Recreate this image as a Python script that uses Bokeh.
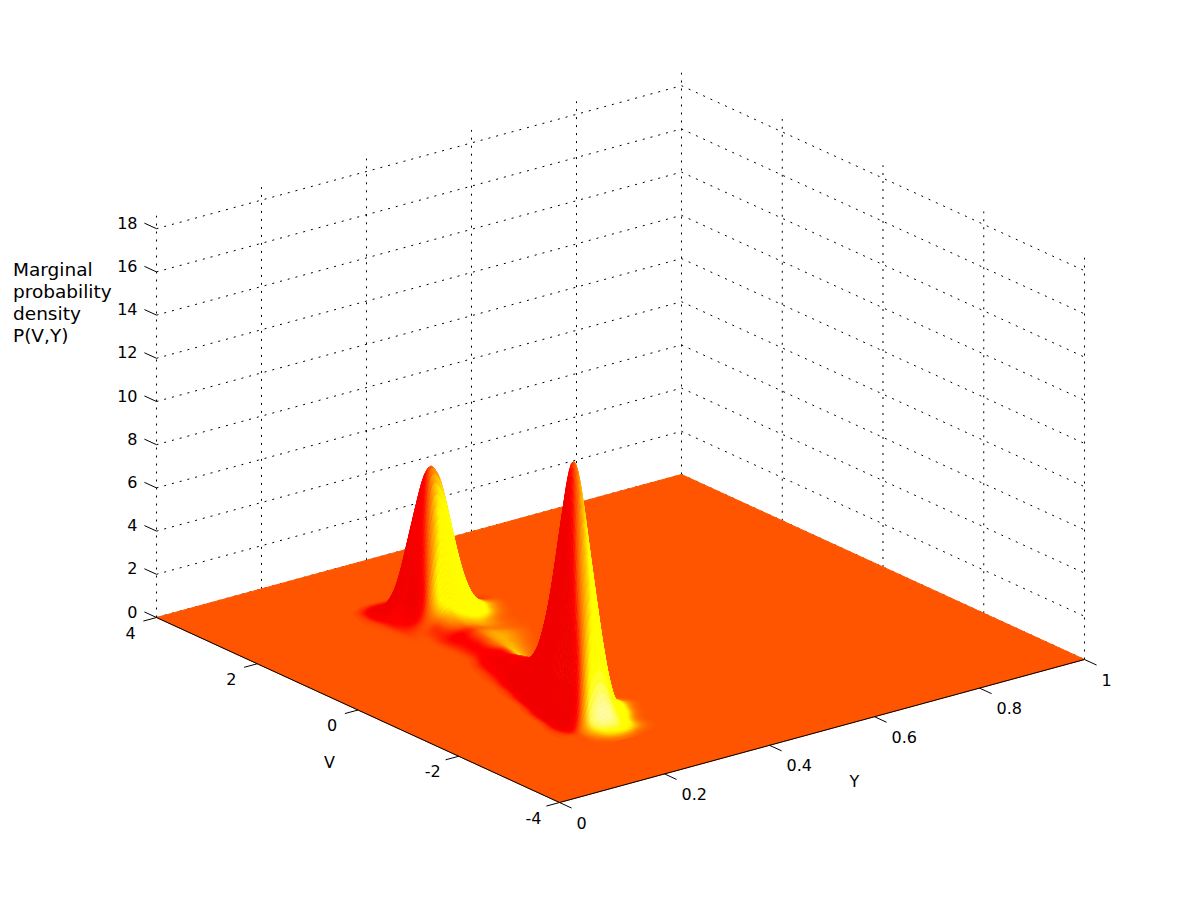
import numpy as np
from bokeh.plotting import figure
from bokeh.models import ColumnDataSource, Range1d
from bokeh.core.properties import value
from bokeh.embed import file_html
from bokeh.resources import INLINE

# ---- values -----------------------------------------------------------
z_ticks = [0, 2, 4, 6, 8, 10, 12, 14, 16, 18]
z_top = 18.6
v_ticks = [4, 2, 0, -2, -4]
y_ticks = [0, 0.2, 0.4, 0.6, 0.8, 1]
y_tick_labels = ["0", "0.2", "0.4", "0.6", "0.8", "1"]
label_lines = ["Marginal", "probability", "density", "P(V,Y)"]

V_rows = [2.75, 2.5, 2.25, 2.0, 1.75, 1.5, 1.25, 1.0, 0.75, 0.5, 0.25, 0.0, -0.25,
          -0.5, -0.75, -1.0, -1.25, -1.5, -1.75, -2.0, -2.25, -2.5, -2.75]
Y_cols = [0.16, 0.18, 0.20, 0.22, 0.24, 0.26, 0.28, 0.30, 0.32, 0.34, 0.36, 0.38, 0.40, 0.42, 0.44, 0.46]

# density P(V,Y): one row per V, one column per Y
density = [
    [0, 0, 0, 0, 0, 0.002, 0.005, 0.006, 0.004, 0.002, 0.001, 0, 0, 0, 0, 0],
    [0, 0, 0, 0, 0.004, 0.045, 0.186, 0.3, 0.24, 0.124, 0.04, 0.009, 0.001, 0, 0, 0],
    [0, 0, 0, 0, 0.008, 0.12, 0.66, 2.36, 3.39, 2.73, 1.51, 0.58, 0.156, 0.029, 0.0036, 0],
    [0, 0, 0, 0, 0.005, 0.09, 0.53, 2.75, 6.27, 6.66, 4.71, 2.36, 0.83, 0.208, 0.037, 0.0047],
    [0, 0, 0, 0, 0.003, 0.05, 0.36, 1.76, 3.48, 3.25, 2.1, 0.96, 0.32, 0.073, 0.012, 0.0012],
    [0, 0, 0, 0, 0.002, 0.018, 0.115, 0.52, 0.855, 0.72, 0.43, 0.18, 0.054, 0.011, 0.0019, 0],
    [0, 0, 0, 0, 0, 0.0037, 0.052, 0.25, 0.425, 0.357, 0.21, 0.09, 0.027, 0.006, 0.001, 0],
    [0, 0, 0, 0, 0, 0.0029, 0.046, 0.242, 0.42, 0.346, 0.192, 0.08, 0.022, 0.004, 0, 0],
    [0, 0, 0, 0, 0, 0.002, 0.039, 0.218, 0.358, 0.24, 0.10, 0.03, 0.006, 0.001, 0, 0],
    [0, 0, 0, 0, 0, 0.0028, 0.046, 0.212, 0.287, 0.14, 0.035, 0.006, 0.001, 0, 0, 0],
    [0, 0, 0, 0, 0.002, 0.024, 0.13, 0.312, 0.288, 0.05, 0.008, 0.001, 0, 0, 0, 0],
    [0, 0, 0, 0, 0.006, 0.074, 0.334, 0.55, 0.198, 0.014, 0.002, 0, 0, 0, 0, 0],
    [0, 0, 0, 0.001, 0.021, 0.174, 0.574, 0.71, 0.187, 0.010, 0.001, 0, 0, 0, 0, 0],
    [0, 0, 0, 0.004, 0.078, 0.5, 1.11, 0.74, 0.105, 0.006, 0, 0, 0, 0, 0, 0],
    [0, 0, 0, 0.015, 0.276, 1.39, 1.92, 0.76, 0.088, 0.005, 0, 0, 0, 0, 0, 0],
    [0, 0, 0.0012, 0.08, 1.14, 3.39, 2.54, 0.69, 0.069, 0.004, 0, 0, 0, 0, 0, 0],
    [0, 0, 0.0077, 0.39, 3.58, 6.1, 3.42, 0.84, 0.09, 0.0062, 0, 0, 0, 0, 0, 0],
    [0, 0.0004, 0.059, 1.58, 7.84, 8.44, 4.31, 1.16, 0.165, 0.012, 0.0005, 0, 0, 0, 0, 0],
    [0, 0.0023, 0.232, 3.85, 11.1, 9.2, 4.8, 1.58, 0.314, 0.039, 0.003, 0, 0, 0, 0, 0],
    [0, 0.015, 0.48, 3.78, 7.6, 5.78, 2.54, 0.58, 0.075, 0.006, 0.0004, 0, 0, 0, 0, 0],
    [0, 0.014, 0.26, 1.46, 2.6, 1.83, 0.56, 0.085, 0.0075, 0.0005, 0, 0, 0, 0, 0, 0],
    [0, 0.0017, 0.028, 0.144, 0.25, 0.197, 0.08, 0.022, 0.004, 0.0005, 0, 0, 0, 0, 0, 0],
    [0, 0, 0.0016, 0.0073, 0.012, 0.0073, 0.0016, 0, 0, 0, 0, 0, 0, 0, 0, 0],
]

# ---- the view ----------------------------------------------------------
X0, Y0 = 156.0, 617.0       # screen place of V=4, Y=0, P=0
YX, YY = 525.0, -143.0      # screen run of the Y axis
VX, VY = 403.0, 185.0       # screen run of the V axis, 4 to -4
ZY = 21.6                   # pixels per unit of P


def proj(v, y, z=0.0):
    v, y, z = np.asarray(v, float), np.asarray(y, float), np.asarray(z, float)
    u = (4.0 - v) / 8.0
    return X0 + YX * y + VX * u, Y0 + YY * y + VY * u - ZY * z


# ---- smooth shading of the table (what "shading interp" does) ----------
def upsample(a, n, axis):
    a = np.moveaxis(a, axis, 0)
    N = a.shape[0]
    t = np.arange(n * (N - 1) + 1) / n
    i = np.minimum(t.astype(int), N - 2)
    f = (t - i).reshape((-1,) + (1,) * (a.ndim - 1))
    p0, p1, p2, p3 = a[np.maximum(i - 1, 0)], a[i], a[i + 1], a[np.minimum(i + 2, N - 1)]
    out = 0.5 * (2 * p1 + (p2 - p0) * f + (2 * p0 - 5 * p1 + 4 * p2 - p3) * f ** 2
                 + (3 * p1 - p0 - 3 * p2 + p3) * f ** 3)
    return np.moveaxis(out, 0, axis)


NV, NY = 8, 10
Vf = upsample(np.array(V_rows), NV, 0)
Yf = upsample(np.array(Y_cols), NY, 0)
Pf = np.exp(upsample(upsample(np.log(np.maximum(np.array(density, float), 1e-3)), NV, 0), NY, 1))
dP_dV, dP_dY = np.gradient(Pf, Vf, Yf)

V_WEIGHT = 16.0
slope = -dP_dY + V_WEIGHT * dP_dV
shade = slope / (Pf + 0.3)
shade_v = V_WEIGHT * dP_dV / (Pf + 0.15)

R = np.interp(shade, [-60, -22], [240, 255])
G = np.interp(shade, [-22, 0, 55], [0, 85, 255])
B = np.interp(shade_v, [100, 150], [0, 255])


def cell_mean(a):
    return 0.25 * (a[:-1, :-1] + a[1:, :-1] + a[:-1, 1:] + a[1:, 1:])


VV, YYg = np.meshgrid(Vf, Yf, indexing="ij")
sx, sy = proj(VV, YYg, Pf)
_, fy = proj(VV, YYg)
Rc, Gc, Bc = cell_mean(R), cell_mean(G), cell_mean(B)
Pc, depth = cell_mean(Pf), cell_mean(fy)

idx = np.argwhere(Pc > 0.003)
idx = idx[np.argsort(depth[idx[:, 0], idx[:, 1]])]
xs, ys, cols = [], [], []
for i, j in idx:
    xs.append([sx[i, j], sx[i + 1, j], sx[i + 1, j + 1], sx[i, j + 1]])
    ys.append([sy[i, j], sy[i + 1, j], sy[i + 1, j + 1], sy[i, j + 1]])
    cols.append("#%02x%02x%02x" % (int(Rc[i, j]), int(Gc[i, j]), int(Bc[i, j])))

# ---- figure -------------------------------------------------------------
p = figure(width=1184, height=884, x_range=Range1d(0, 1184), y_range=Range1d(884, 0),
           output_backend="svg", toolbar_location=None, x_axis_location=None,
           y_axis_location=None, min_border=0)
p.grid.visible = False
p.outline_line_color = None
p.background_fill_color = "white"

DOT = dict(line_color="black", line_width=1, line_dash="2 6")
for z in z_ticks:
    x, y = proj([4, 4, -4], [0, 1, 1], [z, z, z])
    p.line(x, y, **DOT)
for yt in y_ticks:
    x, y = proj([4, 4], [yt, yt], [0, z_top])
    p.line(x, y, **DOT)
for vt in v_ticks[1:]:
    x, y = proj([vt, vt], [1, 1], [0, z_top])
    p.line(x, y, **DOT)

# floor
fx, fy2 = proj([4, -4, -4, 4], [0, 0, 1, 1])
p.patch(fx, fy2, fill_color="#ff5500", line_color="#ff5500", line_width=1)

# axis lines
x, y = proj([4, -4, -4], [0, 0, 1])
p.line(x, y, line_color="black", line_width=1)

# surface
p.patches("xs", "ys", source=ColumnDataSource(dict(xs=xs, ys=ys, c=cols)),
          fill_color="c", line_color="c", line_width=0.7)

# tick marks
TICK = dict(line_color="black", line_width=1)
for z in z_ticks:
    x, y = proj([4, 4.24], [0, 0], [z, z])
    p.line(x, y, **TICK)
for vt in v_ticks:
    x, y = proj([vt, vt], [0, -0.025])
    p.line(x, y, **TICK)
for yt in y_ticks:
    x, y = proj([-4, -4.24], [yt, yt])
    p.line(x, y, **TICK)

# tick labels
TXT = dict(text_color="black", text_font=value("DejaVu Sans"), text_font_size=value("16px"))
x, y = proj([4] * len(z_ticks), [0] * len(z_ticks), z_ticks)
p.text(x - 19, y - 6, text=[str(z) for z in z_ticks], text_align="right", text_baseline="middle", **TXT)
x, y = proj(v_ticks, [0] * len(v_ticks))
p.text(x - 26, y + 15, text=[str(v) for v in v_ticks], text_align="center", text_baseline="middle", **TXT)
x, y = proj([-4] * len(y_ticks), y_ticks)
p.text(x + 17, y + 20, text=y_tick_labels, text_align="left", text_baseline="middle", **TXT)

# axis titles
p.text([329, 854], [762, 781], text=["V", "Y"], text_align="center", text_baseline="middle", **TXT)
LAB = dict(text_color="black", text_font=value("DejaVu Sans"), text_font_size=value("18.5px"))
p.text([12.5] * 4, [269, 291, 313, 335], text=label_lines, text_align="left", text_baseline="middle", **LAB)

open("out.html", "w").write(file_html(p, INLINE))
